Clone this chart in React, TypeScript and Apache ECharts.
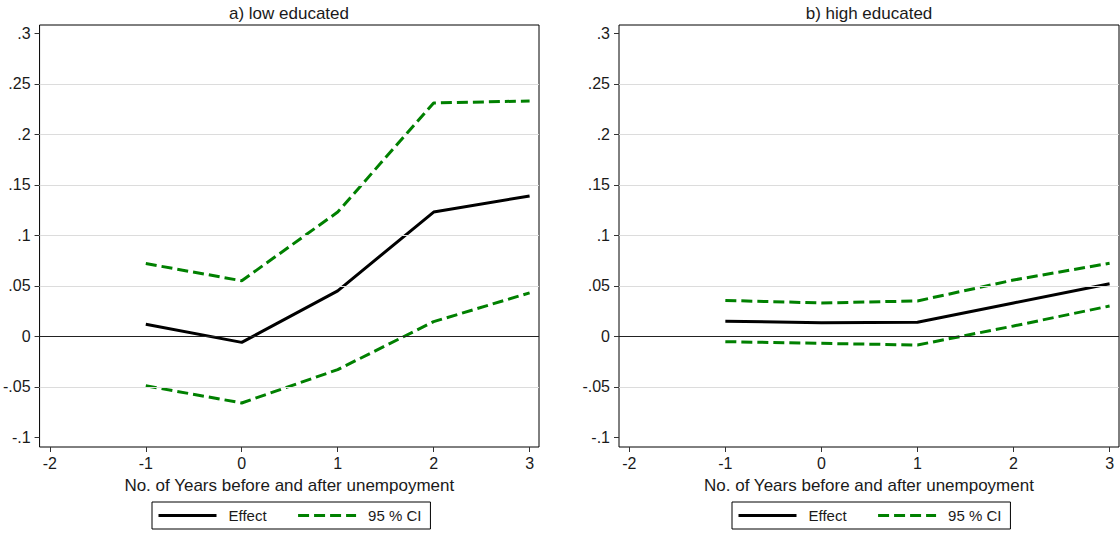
import React, { useEffect, useRef } from "react";
import * as echarts from "echarts";

const years = [-1, 0, 1, 2, 3];
const lowEffect = [0.012, -0.006, 0.045, 0.123, 0.139];
const lowUpper = [0.072, 0.055, 0.123, 0.231, 0.233];
const lowLower = [-0.049, -0.066, -0.033, 0.0145, 0.043];
const highEffect = [0.015, 0.0135, 0.014, 0.033, 0.052];
const highUpper = [0.0355, 0.033, 0.035, 0.0557, 0.0723];
const highLower = [-0.0053, -0.007, -0.0086, 0.0102, 0.03];

const xTicks = [-2, -1, 0, 1, 2, 3];
const yTicks = [-0.1, -0.05, 0, 0.05, 0.1, 0.15, 0.2, 0.25, 0.3];
const gridValues = [-0.05, 0.05, 0.1, 0.15, 0.2, 0.25];
const zeroLine = [0];
const panelTitles = ["a) low educated", "b) high educated"];
const xAxisTitle = "No. of Years before and after unempoyment";
const legendNames = ["Effect", "95 % CI"];

const FONT = "'Liberation Sans', Arial, sans-serif";
const TEXT = "#1a1a1a";
const GREEN = "#008000";

const pair = (vals: number[]) => years.map((y, i) => [y, vals[i]]);
const fmtY = (v: number) => (v === 0 ? "0" : String(v).replace("0.", "."));

export default function App() {
  const ref = useRef<HTMLDivElement>(null);
  useEffect(() => {
    if (!ref.current) return;
    const chart = echarts.init(ref.current, null, { renderer: "svg" });
    const panels = [
      { eff: lowEffect, up: lowUpper, lo: lowLower },
      { eff: highEffect, up: highUpper, lo: highLower },
    ];
    const gridLeft = [39, 619];
    const legendLeft = [152, 732];
    const series: any[] = [];
    panels.forEach((p, i) => {
      series.push({
        type: "line",
        xAxisIndex: i,
        yAxisIndex: i,
        data: [],
        silent: true,
        z: 1,
        markLine: {
          silent: true,
          symbol: "none",
          label: { show: false },
          animation: false,
          data: [
            ...gridValues.map((v) => ({ yAxis: v, lineStyle: { color: "#dcdcdc", width: 1, type: "solid" } })),
            ...zeroLine.map((v) => ({ yAxis: v, lineStyle: { color: "#222", width: 1, type: "solid" } })),
          ],
        },
      });
      series.push({
        name: "Effect",
        type: "line",
        xAxisIndex: i,
        yAxisIndex: i,
        data: pair(p.eff),
        symbol: "none",
        z: 4,
        lineStyle: { color: "#000", width: 3, type: "solid" },
        itemStyle: { color: "#000" },
      });
      [p.up, p.lo].forEach((vals) =>
        series.push({
          name: "95 % CI",
          type: "line",
          xAxisIndex: i,
          yAxisIndex: i,
          data: pair(vals),
          symbol: "none",
          z: 3,
          lineStyle: { color: GREEN, width: 3, type: [11, 5] },
          itemStyle: { color: GREEN },
        })
      );
    });

    chart.setOption({
      animation: false,
      backgroundColor: "#fff",
      textStyle: { fontFamily: FONT },
      title: panelTitles.map((t, i) => ({
        text: t,
        left: gridLeft[i] + 250,
        top: 5,
        textAlign: "center",
        padding: 0,
        textStyle: { fontFamily: FONT, fontSize: 17, fontWeight: "normal", color: TEXT },
      })),
      grid: gridLeft.map((l) => ({
        left: l,
        top: 25,
        width: 500,
        height: 422,
        show: true,
        borderColor: "#000",
        borderWidth: 1,
        backgroundColor: "transparent",
        containLabel: false,
      })),
      legend: legendLeft.map((l) => ({
        data: legendNames,
        left: l,
        top: 502,
        orient: "horizontal",
        itemWidth: 58,
        itemHeight: 12,
        itemGap: 30,
        padding: [6, 9, 6, 5],
        borderColor: "#000",
        borderWidth: 1,
        borderRadius: 0,
        selectedMode: false,
        lineStyle: { width: 3 },
        itemStyle: { opacity: 0, borderWidth: 0 },
        textStyle: { fontFamily: FONT, fontSize: 15, color: TEXT, padding: [0, 0, 0, 7] },
      })),
      xAxis: gridLeft.map((_, i) => ({
        type: "value",
        gridIndex: i,
        min: -2.107,
        max: 3.098,
        axisLine: { show: false, onZero: false },
        axisTick: { show: true, length: 5, customValues: xTicks, lineStyle: { color: "#333" } },
        axisLabel: { customValues: xTicks, margin: 8, fontFamily: FONT, fontSize: 16, color: TEXT },
        splitLine: { show: false },
        name: xAxisTitle,
        nameLocation: "middle",
        nameGap: 30,
        nameTextStyle: { fontFamily: FONT, fontSize: 17, color: TEXT },
      })),
      yAxis: gridLeft.map((_, i) => ({
        type: "value",
        gridIndex: i,
        min: -0.1096,
        max: 0.3082,
        axisLine: { show: false, onZero: false },
        axisTick: { show: true, length: 5, customValues: yTicks, lineStyle: { color: "#333" } },
        axisLabel: {
          customValues: yTicks,
          margin: 9,
          fontFamily: FONT,
          fontSize: 16,
          color: TEXT,
          formatter: (v: number) => fmtY(v),
        },
        splitLine: { show: false },
      })),
      series,
    });
    return () => chart.dispose();
  }, []);
  return (
    <div
      ref={ref}
      style={{ position: "fixed", left: 0, top: 0, width: 1120, height: 534, background: "#fff" }}
    />
  );
}
